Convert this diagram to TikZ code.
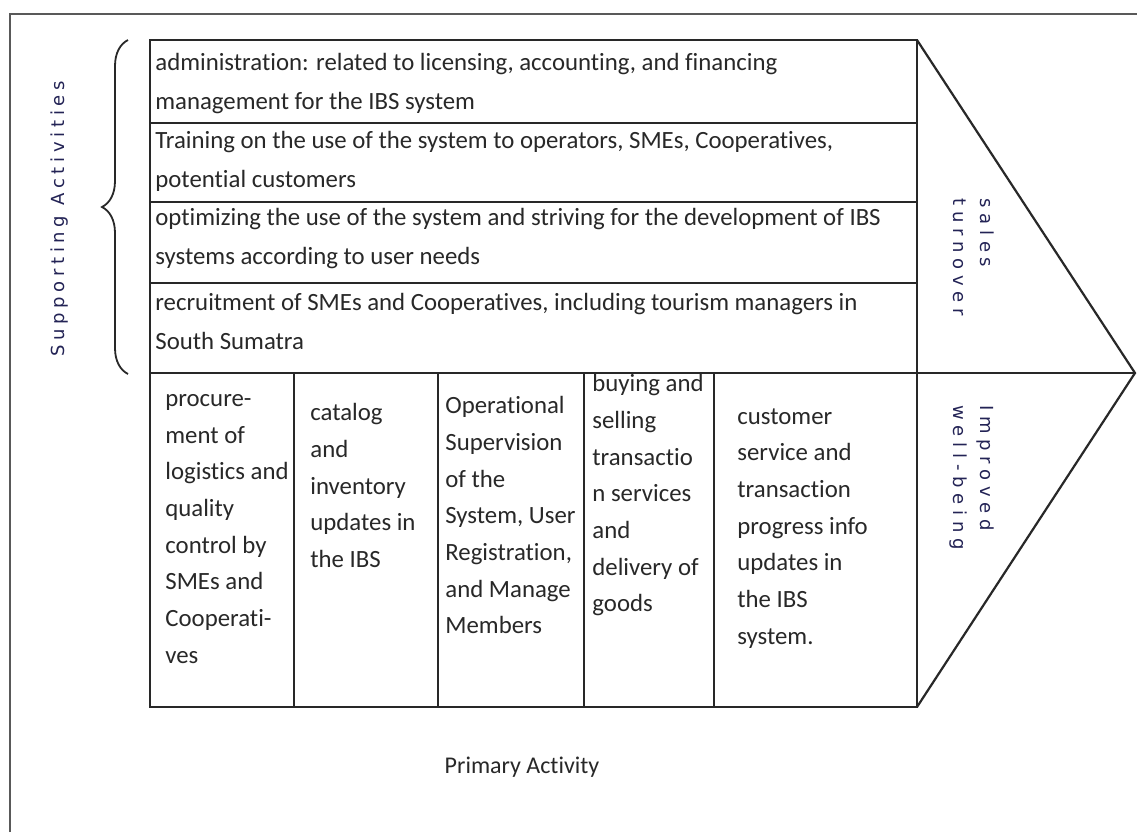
\documentclass[tikz,border=0pt]{standalone}
\usepackage{fontspec}
\setmainfont{Carlito}[Ligatures=NoCommon]
\newfontfamily\sidefont[LetterSpace=26]{DejaVu Sans}
\newfontfamily\tipfont[LetterSpace=32]{DejaVu Sans}
\usetikzlibrary{decorations.pathreplacing,positioning}

\definecolor{inkgray}{RGB}{40,40,40}
\definecolor{sidenavy}{RGB}{35,35,85}

\tikzset{
  boxline/.style={draw=inkgray, line width=1.4pt},
  frameline/.style={draw=black!65, line width=1.1pt},
  rowtext/.style={anchor=north west, inner sep=0pt, align=left, text=inkgray,
    font=\fontsize{12.4}{19.5}\selectfont, execute at begin node={\rule{0pt}{9.5pt}}},
  coltext/.style={rowtext, font=\fontsize{12.4}{18.35}\selectfont},
  sidetext/.style={inner sep=0pt, align=left, text=sidenavy,
    font=\sidefont\fontsize{9}{13.7}\selectfont},
  tiptext/.style={sidetext, font=\tipfont\fontsize{9}{13.7}\selectfont}
}

\begin{document}
\begin{tikzpicture}[x=0.5pt, y=-0.5pt]
\useasboundingbox (0,0) rectangle (1137,832);
\fill[white] (0,0) rectangle (1137,832);

% outer frame (cut off at right and bottom)
\draw[frameline] (10,832) -- (10,14) -- (1137,14);

% supporting activities block
\draw[boxline] (150,40) rectangle (917,373);
\foreach \y in {123,202,283}
\draw[boxline] (150,\y) -- (917,\y);

% primary activity block
\draw[boxline] (150,373) rectangle (917,707);
\foreach \x in {294,438,584,714}
\draw[boxline] (\x,373) -- (\x,707);

% margin chevron
\draw[boxline, line width=1.1pt] (917,40) -- (1135,373) -- (917,707);
\draw[boxline] (917,373) -- (1135,373);

% support rows
\node[rowtext] (admin) at (155,53)
  {administration: related to licensing, accounting, and financing\\management for the IBS system};
\node[rowtext] (train) at (155,131)
  {Training on the use of the system to operators, SMEs, Cooperatives,\\potential customers};
\node[rowtext] (optim) at (155,208)
  {optimizing the use of the system and striving for the development of IBS\\systems according to user needs};
\node[rowtext] (recruit) at (155,293)
  {recruitment of SMEs and Cooperatives, including tourism managers in\\South Sumatra};

% primary columns
\node[coltext] (procure) at (165,394)
  {procure-\\ment of\\logistics and\\quality\\control by\\SMEs and\\Cooperati-\\ves};
\node[coltext] (catalog) at (310,403)
  {catalog\\and\\inventory\\updates in\\the IBS};
\node[coltext] (supervise) at (445,396)
  {Operational\\Supervision\\of the\\System, User\\Registration,\\and Manage\\Members};
\node[coltext] (trade) at (592,374)
  {buying and\\selling\\transactio\\n services\\and\\delivery of\\goods};
\node[coltext] (service) at (737,408)
  {customer\\service and\\transaction\\progress info\\updates in\\the IBS\\system.};

% brace and side labels
\draw[decorate, decoration={brace, amplitude=13pt}, draw=inkgray, line width=0.9pt]
  (128,374) -- (128,40);
\node[sidetext, rotate=90] (support) at (60,219) {Supporting Activities};
\node[tiptext, rotate=-90, anchor=west] (sales) at (974,198) {sales\\turnover};
\node[tiptext, rotate=-90, anchor=west] (wellbeing) at (972,405) {Improved\\well-being};

\node[font=\fontsize{12}{14}\selectfont, text=inkgray, inner sep=0pt] (primary) at (522,767) {Primary Activity};
\end{tikzpicture}
\end{document}
